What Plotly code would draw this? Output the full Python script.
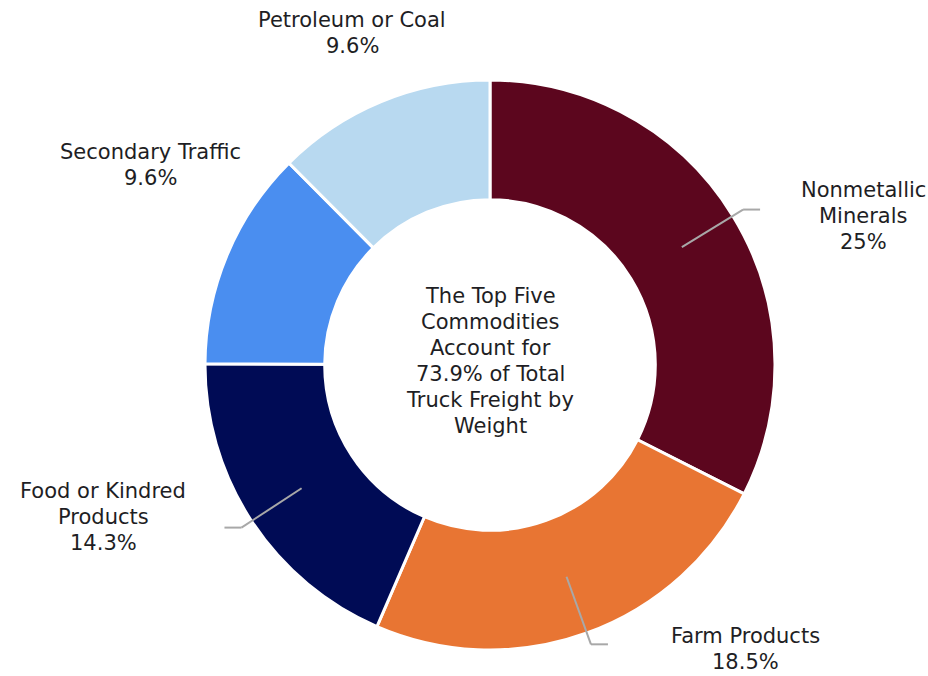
import math
import plotly.graph_objects as go

# Commodity shares of truck freight by weight (percent)
categories = ["Nonmetallic Minerals", "Farm Products", "Food or Kindred Products",
              "Secondary Traffic", "Petroleum or Coal"]
shares = [25, 18.5, 14.3, 9.6, 9.6]
colors = ["#5C061E", "#E87533", "#000B55", "#4A8EF0", "#B8D9F0"]

# Label text blocks (one entry per line)
label_lines = [
    ["Nonmetallic", "Minerals", "25%"],
    ["Farm Products", "18.5%"],
    ["Food or Kindred", "Products", "14.3%"],
    ["Secondary Traffic", "9.6%"],
    ["Petroleum or Coal", "9.6%"],
]
center_lines = ["The Top Five", "Commodities", "Account for", "73.9% of Total",
                "Truck Freight by", "Weight"]

W, H = 928, 676
CX, CY, R_OUT, HOLE = 490, 365, 285, 0.58
R_IN = R_OUT * HOLE
FONT = "DejaVu Sans"
FS = 21
LINE_H = 26
TEXT_COLOR = "#1E1E24"

# label anchor (centre of first line) in pixels, and whether a leader line is drawn
label_anchor = [(863, 190), (745, 636), (103, 491), (150, 152), (352, 20)]
leader = [True, True, True, False, False]


def px(x):
    return x / W


def py(y):
    return 1 - y / H


fig = go.Figure(go.Pie(
    labels=categories,
    values=shares,
    marker=dict(colors=colors, line=dict(color="white", width=3)),
    hole=HOLE,
    sort=False,
    direction="clockwise",
    rotation=0,
    textinfo="none",
    hoverinfo="label+value",
    showlegend=False,
    domain=dict(x=[px(CX - R_OUT), px(CX + R_OUT)], y=[py(CY + R_OUT), py(CY - R_OUT)]),
))

annotations = []


def add_block(lines, x0, y0):
    for i, t in enumerate(lines):
        annotations.append(dict(
            x=px(x0), y=py(y0 + i * LINE_H), xref="paper", yref="paper",
            text=t, showarrow=False, xanchor="center", yanchor="middle",
            font=dict(family=FONT, size=FS, color=TEXT_COLOR),
        ))


for lines, (ax, ay) in zip(label_lines, label_anchor):
    add_block(lines, ax, ay)

add_block(center_lines, CX, CY - 2.5 * LINE_H - 4)

# leader lines from the ring's middle, out past the edge, then horizontal
shapes = []
total = sum(shares)
cum = 0
for i, v in enumerate(shares):
    mid = (cum + v / 2) / total * 2 * math.pi
    cum += v
    if not leader[i]:
        continue
    r0 = (R_IN + R_OUT) / 2
    r1 = R_OUT + 12
    x0, y0 = CX + r0 * math.sin(mid), CY - r0 * math.cos(mid)
    x1, y1 = CX + r1 * math.sin(mid), CY - r1 * math.cos(mid)
    x2 = x1 + (17 if math.sin(mid) > 0 else -17)
    for a, b in [((x0, y0), (x1, y1)), ((x1, y1), (x2, y1))]:
        shapes.append(dict(type="line", xref="paper", yref="paper",
                           x0=px(a[0]), y0=py(a[1]), x1=px(b[0]), y1=py(b[1]),
                           line=dict(color="#A8A8A8", width=2)))

fig.update_layout(
    width=W, height=H,
    margin=dict(l=0, r=0, t=0, b=0),
    paper_bgcolor="white",
    plot_bgcolor="white",
    annotations=annotations,
    shapes=shapes,
)

fig.write_html("out.html")
